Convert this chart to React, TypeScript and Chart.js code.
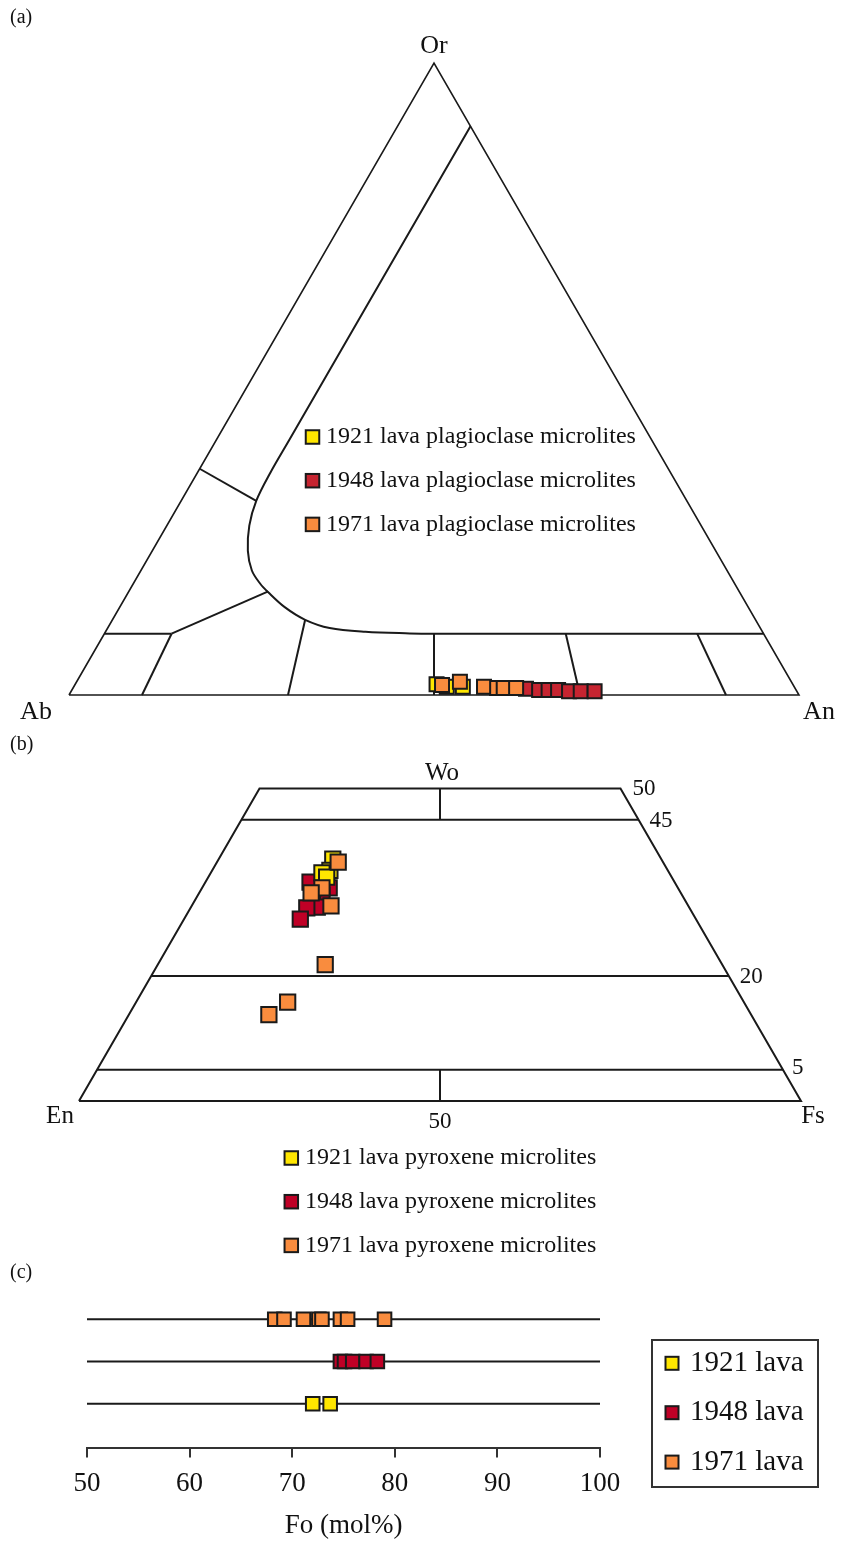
import React, { useEffect, useRef } from 'react';
import { Chart, registerables } from 'chart.js';

Chart.register(...registerables);

const SERIF = "'Liberation Serif', 'Times New Roman', serif";

const YEARS = ['1921', '1948', '1971'];
const YELLOW = '#FFE600';
const RED_PLAG = '#C62430';
const RED_PX = '#BF0026';
const ORANGE = '#F98C3E';
const INK = '#1a1a1a';

// Plagioclase microlites: An and Or in mol% (Ab = 100 - An - Or)
const PLAG_1921_AN = [49.5, 51.1, 53.3];
const PLAG_1921_OR = [1.7, 1.3, 1.3];
const PLAG_1948_AN = [62.1, 64.0, 65.3, 66.6, 68.2, 69.8, 71.7];
const PLAG_1948_OR = [1.0, 0.8, 0.8, 0.8, 0.6, 0.6, 0.6];
const PLAG_1971_AN = [50.3, 52.5, 56.2, 58.1, 59.0, 60.7];
const PLAG_1971_OR = [1.6, 2.1, 1.3, 1.1, 1.1, 1.1];

// Pyroxene microlites: Wo and Fs in mol% (En = 100 - Wo - Fs)
const PX_1921_WO = [38.7, 36.9, 36.5, 35.8];
const PX_1921_FS = [15.8, 16.3, 15.4, 16.4];
const PX_1948_WO = [35.0, 34.1, 32.9, 32.1, 31.0, 30.9, 29.1];
const PX_1948_FS = [14.5, 17.6, 17.2, 16.3, 17.5, 16.1, 16.1];
const PX_1971_WO = [38.2, 34.1, 33.3, 31.2, 21.8, 15.8, 13.8];
const PX_1971_FS = [16.8, 16.6, 15.5, 19.3, 23.2, 21.0, 19.4];

// Olivine microlites: forsterite content, mol%
const FO_1921 = [72.0, 73.7];
const FO_1948 = [74.7, 75.1, 75.9, 77.2, 78.3];
const FO_1971 = [68.3, 69.2, 71.1, 72.6, 72.9, 74.7, 75.4, 79.0];
const FO_TICKS = [50, 60, 70, 80, 90, 100];

// Feldspar ternary fields, [An, Or]
const FSP_OUTLINE = [[0, 0], [100, 0], [0, 100], [0, 0]];
const FSP_SOLVUS = [
  [10, 90], [10, 40.3], [10, 35.2], [10.3, 30.7], [11.3, 26.8], [13.1, 22.8],
  [15.2, 19.7], [17.4, 17.6], [19.1, 16.3], [22.6, 13.9], [26.4, 11.9],
  [30.4, 10.6], [35.6, 10.0], [41.8, 9.75], [45.15, 9.7], [90.3, 9.7],
];
const FSP_FIELDS = [
  [[0, 35.8], [10.3, 30.7]],
  [[19.1, 16.4], [9.2, 9.7]],
  [[0, 9.7], [9.2, 9.7]],
  [[9.2, 9.7], [10, 0]],
  [[26.4, 11.9], [30, 0]],
  [[45.15, 9.7], [50, 0]],
  [[63.2, 9.7], [70, 0]],
  [[81.2, 9.7], [90, 0]],
];

// Pyroxene quadrilateral, [Fs, Wo]
const PX_OUTLINE = [[0, 0], [100, 0], [50, 50], [0, 50], [0, 0]];
const PX_FIELDS = [
  [[0, 45], [55, 45]],
  [[0, 20], [80, 20]],
  [[0, 5], [95, 5]],
  [[27.5, 45], [25, 50]],
  [[50, 0], [47.5, 5]],
];

const feld = (pts: number[][]) => pts.map(([an, or]) => ({ x: an + or / 2, y: or }));
const pyx = (pts: number[][]) => pts.map(([fs, wo]) => ({ x: fs + wo / 2, y: wo }));
const zip = (a: number[], b: number[]) => a.map((v, i) => [v, b[i]]);

function lineSet(data: { x: number; y: number }[], width = 2, tension = 0) {
  return {
    data,
    showLine: true,
    pointRadius: 0,
    pointHoverRadius: 0,
    borderColor: INK,
    backgroundColor: INK,
    borderWidth: width,
    tension,
    order: 10,
    clip: false as const,
  };
}

function pointSet(label: string, data: { x: number; y: number }[], fill: string, r: number, order: number) {
  return {
    label,
    data,
    showLine: false,
    pointStyle: 'rect' as const,
    pointRadius: r,
    pointHoverRadius: r,
    backgroundColor: fill,
    borderColor: INK,
    pointBorderWidth: 2,
    borderWidth: 2,
    order,
    clip: false as const,
  };
}

function text(ctx: CanvasRenderingContext2D, s: string, x: number, y: number, size: number, align: CanvasTextAlign = 'center') {
  ctx.font = `${size}px ${SERIF}`;
  ctx.fillStyle = '#111';
  ctx.textAlign = align;
  ctx.textBaseline = 'middle';
  ctx.fillText(s, x, y);
}

function swatch(ctx: CanvasRenderingContext2D, cx: number, cy: number, side: number, fill: string) {
  ctx.fillStyle = fill;
  ctx.fillRect(cx - side / 2, cy - side / 2, side, side);
  ctx.strokeStyle = INK;
  ctx.lineWidth = 2;
  ctx.strokeRect(cx - side / 2, cy - side / 2, side, side);
}

const overlay = (draw: (ctx: CanvasRenderingContext2D, chart: any) => void) => ({
  id: 'overlay',
  afterDraw(chart: any) {
    const ctx = chart.ctx as CanvasRenderingContext2D;
    ctx.save();
    draw(ctx, chart);
    ctx.restore();
  },
});

const hiddenScale = (min: number, max: number) => ({ type: 'linear' as const, display: false, min, max });

const baseOptions = {
  responsive: false,
  animation: false as const,
  events: [] as any[],
  plugins: { legend: { display: false }, tooltip: { enabled: false } },
};

export default function App() {
  const refA = useRef<HTMLCanvasElement>(null);
  const refB = useRef<HTMLCanvasElement>(null);
  const refC = useRef<HTMLCanvasElement>(null);

  useEffect(() => {
    Chart.defaults.font.family = SERIF;
    const colorsPlag = [YELLOW, RED_PLAG, ORANGE];
    const colorsPx = [YELLOW, RED_PX, ORANGE];

    // (a) Or–Ab–An feldspar triangle
    const chartA = new Chart(refA.current!, {
      type: 'scatter',
      data: {
        datasets: [
          lineSet(feld(FSP_OUTLINE), 1.6),
          lineSet(feld(FSP_SOLVUS), 2, 0.35),
          ...FSP_FIELDS.map((f) => lineSet(feld(f), 2)),
          pointSet('1948', feld(zip(PLAG_1948_AN, PLAG_1948_OR)), RED_PLAG, 9.9, 3),
          pointSet('1921', feld(zip(PLAG_1921_AN, PLAG_1921_OR)), YELLOW, 9.9, 2),
          pointSet('1971', feld(zip(PLAG_1971_AN, PLAG_1971_OR)), ORANGE, 9.9, 1),
        ] as any,
      },
      options: {
        ...baseOptions,
        layout: { padding: { left: 69, right: 42, top: 63, bottom: 25 } },
        scales: { x: hiddenScale(0, 100), y: hiddenScale(0, 100) },
      } as any,
      plugins: [
        overlay((ctx, chart) => {
          const xs = chart.scales.x;
          const ys = chart.scales.y;
          text(ctx, '(a)', 10, 18, 20, 'left');
          text(ctx, 'Or', xs.getPixelForValue(50), ys.getPixelForValue(100) - 17, 26);
          text(ctx, 'Ab', xs.getPixelForValue(0) - 33, ys.getPixelForValue(0) + 17, 26);
          text(ctx, 'An', xs.getPixelForValue(100) + 20, ys.getPixelForValue(0) + 17, 26);
          YEARS.forEach((yr, i) => {
            const cy = 437 + i * 43.7;
            swatch(ctx, 312.5, cy, 13.5, colorsPlag[i]);
            text(ctx, `${yr} lava plagioclase microlites`, 326, cy, 24, 'left');
          });
        }),
      ],
    });

    // (b) pyroxene quadrilateral
    const chartB = new Chart(refB.current!, {
      type: 'scatter',
      data: {
        datasets: [
          lineSet(pyx(PX_OUTLINE), 2),
          ...PX_FIELDS.map((f) => lineSet(pyx(f), 2)),
          pointSet('1948', pyx(zip(PX_1948_FS, PX_1948_WO)), RED_PX, 10.8, 3),
          pointSet('1921', pyx(zip(PX_1921_FS, PX_1921_WO)), YELLOW, 10.8, 2),
          pointSet('1971', pyx(zip(PX_1971_FS, PX_1971_WO)), ORANGE, 10.8, 1),
        ] as any,
      },
      options: {
        ...baseOptions,
        layout: { padding: { left: 79, right: 40, top: 68.4, bottom: 159 } },
        scales: { x: hiddenScale(0, 100), y: hiddenScale(0, 50) },
      } as any,
      plugins: [
        overlay((ctx, chart) => {
          const xs = chart.scales.x;
          const ys = chart.scales.y;
          const X = (v: number) => xs.getPixelForValue(v);
          const Y = (v: number) => ys.getPixelForValue(v);
          text(ctx, '(b)', 10, 25, 20, 'left');
          text(ctx, 'Wo', X(50) + 2, Y(50) - 15, 25);
          text(ctx, '50', X(75) + 12, Y(50) + 1, 23, 'left');
          text(ctx, '45', X(77.5) + 11, Y(45) + 1, 23, 'left');
          text(ctx, '20', X(90) + 11, Y(20) + 1, 23, 'left');
          text(ctx, '5', X(97.5) + 9, Y(5) - 2, 23, 'left');
          text(ctx, 'En', X(0) - 19, Y(0) + 15, 25);
          text(ctx, 'Fs', X(100) + 12, Y(0) + 15, 25);
          text(ctx, '50', X(50), Y(0) + 21, 23);
          YEARS.forEach((yr, i) => {
            const cy = 438 + i * 43.7;
            swatch(ctx, 291.3, cy, 13.5, colorsPx[i]);
            text(ctx, `${yr} lava pyroxene microlites`, 305, cy, 24, 'left');
          });
        }),
      ],
    });

    // (c) olivine Fo strip plot
    const row = (vals: number[], r: number) => vals.map((v) => ({ x: v, y: r }));
    const chartC = new Chart(refC.current!, {
      type: 'scatter',
      data: {
        datasets: [
          ...[1, 2, 3].map((r) => lineSet([{ x: 50, y: r }, { x: 100, y: r }], 2)),
          pointSet('1948', row(FO_1948, 2), RED_PX, 9.6, 3),
          pointSet('1921', row(FO_1921, 1), YELLOW, 9.6, 2),
          pointSet('1971', row(FO_1971, 3), ORANGE, 9.6, 1),
        ] as any,
      },
      options: {
        ...baseOptions,
        layout: { padding: { left: 87, right: 241, top: 17, bottom: 5 } },
        scales: {
          x: {
            type: 'linear',
            position: 'bottom',
            min: FO_TICKS[0],
            max: FO_TICKS[FO_TICKS.length - 1],
            afterBuildTicks: (axis: any) => {
              axis.ticks = FO_TICKS.map((v) => ({ value: v }));
            },
            ticks: { color: '#111', font: { family: SERIF, size: 27 }, padding: 10, maxRotation: 0 },
            grid: { display: true, drawOnChartArea: false, drawTicks: true, tickLength: 10, color: '#333', lineWidth: 2 },
            border: { display: true, color: '#333', width: 2 },
            title: {
              display: true,
              text: 'Fo (mol%)',
              color: '#111',
              font: { family: SERIF, size: 27, lineHeight: 1 },
              padding: { top: 2, bottom: 4 },
            },
          },
          y: hiddenScale(-0.04, 4),
        },
      } as any,
      plugins: [
        overlay((ctx) => {
          text(ctx, '(c)', 10, 13, 20, 'left');
          ctx.strokeStyle = '#333';
          ctx.lineWidth = 2;
          ctx.strokeRect(652, 80, 166, 147);
          YEARS.forEach((yr, i) => {
            const cy = 103.3 + i * 49.4;
            swatch(ctx, 672, cy, 13, colorsPx[i]);
            text(ctx, `${yr} lava`, 690, cy, 29, 'left');
          });
        }),
      ],
    });

    return () => {
      chartA.destroy();
      chartB.destroy();
      chartC.destroy();
    };
  }, []);

  return (
    <div style={{ position: 'absolute', left: 0, top: 0, width: 841, height: 1548, background: '#fff' }}>
      <canvas ref={refA} width={841} height={720} style={{ position: 'absolute', left: 0, top: 0 }} />
      <canvas ref={refB} width={841} height={540} style={{ position: 'absolute', left: 0, top: 720 }} />
      <canvas ref={refC} width={841} height={288} style={{ position: 'absolute', left: 0, top: 1260 }} />
    </div>
  );
}
